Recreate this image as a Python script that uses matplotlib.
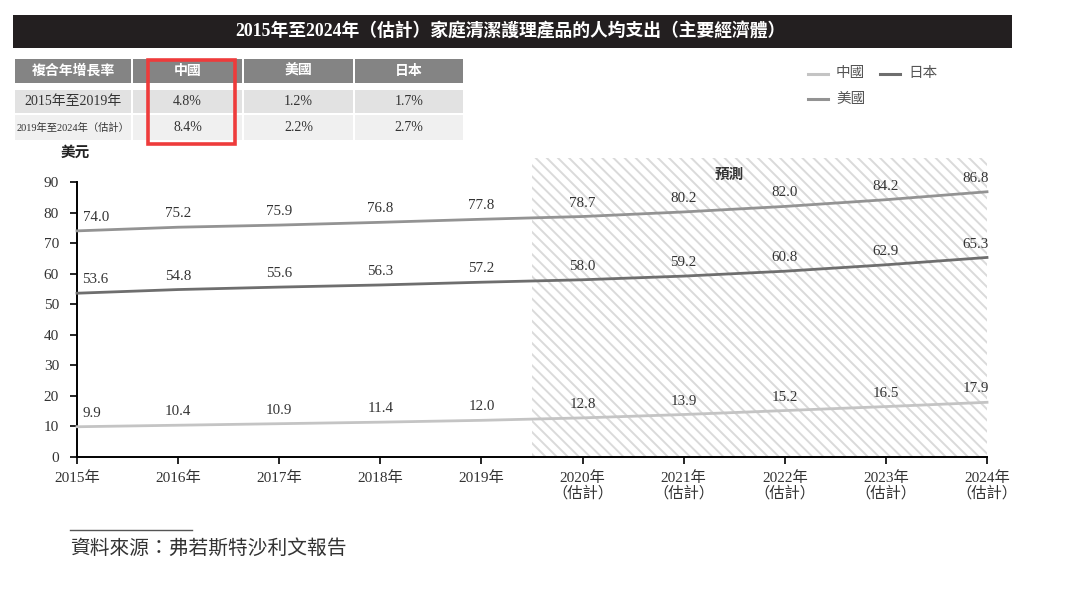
import matplotlib.pyplot as plt
from matplotlib.patches import Rectangle
from matplotlib.lines import Line2D

plt.rcParams['font.family'] = ['Liberation Serif', 'Noto Sans CJK TC', 'DejaVu Sans']
plt.rcParams['hatch.linewidth'] = 1.4
plt.rcParams['hatch.color'] = '#dadada'

years = ['2015年', '2016年', '2017年', '2018年', '2019年',
         '2020年\n（估計）', '2021年\n（估計）', '2022年\n（估計）',
         '2023年\n（估計）', '2024年\n（估計）']
china = [9.9, 10.4, 10.9, 11.4, 12.0, 12.8, 13.9, 15.2, 16.5, 17.9]
usa = [74.0, 75.2, 75.9, 76.8, 77.8, 78.7, 80.2, 82.0, 84.2, 86.8]
japan = [53.6, 54.8, 55.6, 56.3, 57.2, 58.0, 59.2, 60.8, 62.9, 65.3]

cagr_header = ['複合年增長率', '中國', '美國', '日本']
cagr_rows = [['2015年至2019年', '4.8%', '1.2%', '1.7%'],
             ['2019年至2024年（估計）', '8.4%', '2.2%', '2.7%']]

title = '2015年至2024年（估計）家庭清潔護理產品的人均支出（主要經濟體）'
source = '資料來源：弗若斯特沙利文報告'

c_china = '#c4c4c4'
c_usa = '#939393'
c_japan = '#6e6e6e'

W, H = 1080, 592
fig = plt.figure(figsize=(W / 100, H / 100), dpi=100)


def fx(px):
    return px / W


def fy(py):
    return 1 - py / H


# title bar
fig.patches.append(Rectangle((fx(13), fy(48)), fx(1012) - fx(13), fy(15) - fy(48),
                             transform=fig.transFigure, facecolor='#231f20',
                             edgecolor='none'))
fig.text(fx(510), fy(31), title, color='white', fontsize=12.8, fontweight='bold',
         ha='center', va='center')

# CAGR table
col_x = [(15, 131), (133, 242), (244, 353), (355, 463)]
row_y = [(59, 83, '#848484'), (90, 113, '#e2e2e2'), (115, 140, '#f0f0f0')]
table = [cagr_header] + cagr_rows
for r, (y0, y1, fc) in enumerate(row_y):
    for c, (x0, x1) in enumerate(col_x):
        fig.patches.append(Rectangle((fx(x0), fy(y1)), fx(x1) - fx(x0), fy(y0) - fy(y1),
                                     transform=fig.transFigure, facecolor=fc,
                                     edgecolor='none'))
        txt = table[r][c]
        size = 10
        if r == 2 and c == 0:
            size = 7.4
        fig.text(fx((x0 + x1) / 2), fy((y0 + y1) / 2), txt,
                 color='white' if r == 0 else '#333333', fontsize=size,
                 fontweight='bold' if r == 0 else 'normal',
                 ha='center', va='center')

# red highlight box
fig.patches.append(Rectangle((fx(148), fy(144)), fx(235) - fx(148), fy(60) - fy(144),
                             transform=fig.transFigure, facecolor='none',
                             edgecolor='#ee3b3b', linewidth=2.6))

fig.text(fx(75), fy(153), '美元', fontsize=10.5, fontweight='bold', ha='center',
         va='center', color='#222222')

# legend
for (lx, ly, col, name) in [(808, 74, c_china, '中國'), (880, 74, c_japan, '日本'),
                            (808, 99, c_usa, '美國')]:
    fig.lines.append(Line2D([fx(lx), fx(lx + 20)], [fy(ly), fy(ly)], color=col,
                            linewidth=2.2, transform=fig.transFigure))
    fig.text(fx(lx + 28), fy(ly), name, fontsize=10.5, color='#555555',
             ha='left', va='center')

# main axes
ax = fig.add_axes([fx(77), fy(457), fx(987) - fx(77), fy(158) - fy(457)])
x = list(range(len(years)))
ax.set_xlim(0, len(years) - 1)
ax.set_ylim(0, 97.85)

ax.axvspan(4.5, 9, facecolor='white', hatch='\\\\\\', edgecolor='#dadada',
           linewidth=0, zorder=0)

for vals, col in [(china, c_china), (usa, c_usa), (japan, c_japan)]:
    ax.plot(x, vals, color=col, linewidth=2.0, zorder=3, clip_on=False)
    for i, v in enumerate(vals):
        dx = 0
        ha = 'center'
        if i == 0:
            dx, ha = 4, 'left'
        elif i == len(vals) - 1:
            dx = -8
        ax.annotate(f'{v:.1f}', (i, v), xytext=(dx, 5), textcoords='offset points',
                    ha=ha, va='bottom', fontsize=10.8, color='#333333',
                    annotation_clip=False)

ax.text(6.45, 92.3, '預測', fontsize=10.5, fontweight='bold',
        style='italic', ha='center', va='center', color='#333333')

for s in ['top', 'right']:
    ax.spines[s].set_visible(False)
ax.spines['left'].set_bounds(0, 90)
ax.spines['left'].set_linewidth(1.4)
ax.spines['bottom'].set_linewidth(1.4)
ax.set_yticks(range(0, 91, 10))
ax.set_xticks(x)
ax.set_xticklabels(years, fontsize=11, color='#333333', linespacing=1.1)
ax.tick_params(axis='y', labelsize=11, labelcolor='#333333', length=5, width=1.2,
               pad=8)
ax.tick_params(axis='x', length=5, width=1.2, pad=5)

# source note
fig.lines.append(Line2D([fx(70), fx(192)], [fy(530), fy(530)], color='#555555',
                        linewidth=1.0, transform=fig.transFigure))
fig.text(fx(70), fy(549), source, fontsize=14.2, style='italic', color='#333333',
         ha='left', va='center')

fig.savefig('out.png', dpi=100, facecolor='white')
